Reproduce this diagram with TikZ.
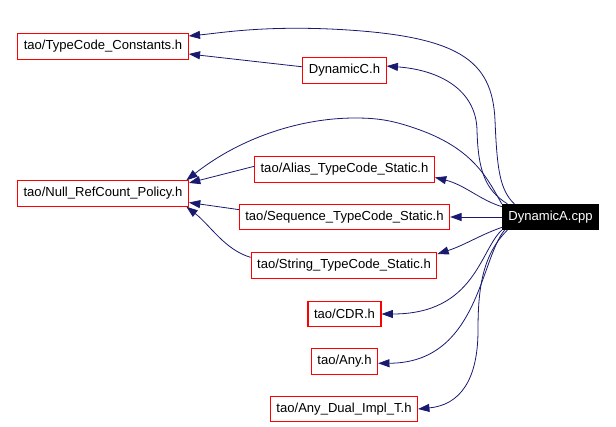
\documentclass[tikz,border=0pt]{standalone}
\usepackage{fontspec}
\setmainfont{Liberation Sans}
\usetikzlibrary{arrows.meta}
\definecolor{incl}{HTML}{191970}

\begin{document}
\begin{tikzpicture}[x=0.75pt,y=-0.75pt,
        file/.style={draw=red,line width=0.8pt,minimum height=19pt,inner xsep=4.5pt,font=\fontsize{9.8}{12}\selectfont},
        dep/.style={draw=incl,line width=0.6pt,-{Triangle[length=8.5pt,width=6pt]}}]
        \useasboundingbox (0,0) rectangle (616,427);

        % Draw the included files
        \node[file] (tcc) at (103,46.5) {tao/TypeCode\_Constants.h};
        \node[file] (dync) at (344.5,70.5) {DynamicC.h};
        \node[file] (nrp) at (103,193.5) {tao/Null\_RefCount\_Policy.h};
        \node[file] (alias) at (344.5,169.5) {tao/Alias\_TypeCode\_Static.h};
        \node[file] (seq) at (344.5,217) {tao/Sequence\_TypeCode\_Static.h};
        \node[file] (str) at (344,265.5) {tao/String\_TypeCode\_Static.h};
        \node[file] (cdr) at (344.5,314) {tao/CDR.h};
        \node[file] (any) at (344.5,361.5) {tao/Any.h};
        \node[file] (adi) at (344,409) {tao/Any\_Dual\_Impl\_T.h};

        % Draw the source file
        \node[file,draw=black,fill=black,text=white] (dyna) at (550.5,217) {DynamicA.cpp};

        % Draw the includes of DynamicA.cpp
        \draw[dep] (dyna.160.6) .. controls (500,190) and (497,170) .. (495,120)
            .. controls (492,60) and (460,35) .. (330,29)
            .. controls (260,26) and (220,33) .. (tcc.7);
        \draw[dep] (dyna.163.6) .. controls (485,190) and (478,170) .. (477,130)
            .. controls (476,90) and (440,70) .. (dync.6.8);
        \draw[dep] (dyna.165.3) .. controls (488,180) and (475,150) .. (420,130)
            .. controls (395,121) and (380,118) .. (355,118)
            .. controls (300,118) and (240,138) .. (nrp.9.2);
        \draw[dep] (dyna.168.4) .. controls (480,200) and (465,185) .. (alias.355.4);
        \draw[dep] (dyna.west) -- (seq.east);
        \draw[dep] (dyna.192.8) .. controls (480,235) and (465,245) .. (str.7.7);
        \draw[dep] (dyna.195) .. controls (480,250) and (475,314) .. (cdr.east);
        \draw[dep] (dyna.196) .. controls (480,260) and (478,363) .. (any.357);
        \draw[dep] (dyna.197.2) .. controls (482,255) and (478,290) .. (478,330)
            .. controls (478,380) and (460,405) .. (adi.east);

        % Draw the includes of the headers
        \draw[dep] (dync.175.2) -- (tcc.355.7);
        \draw[dep] (alias.178.5) -- (nrp.7.1);
        \draw[dep] (seq.176.8) -- (nrp.354.3);
        \draw[dep] (str.175.1) .. controls (225,250) and (210,225) .. (nrp.351.5);
    \end{tikzpicture}
\end{document}
